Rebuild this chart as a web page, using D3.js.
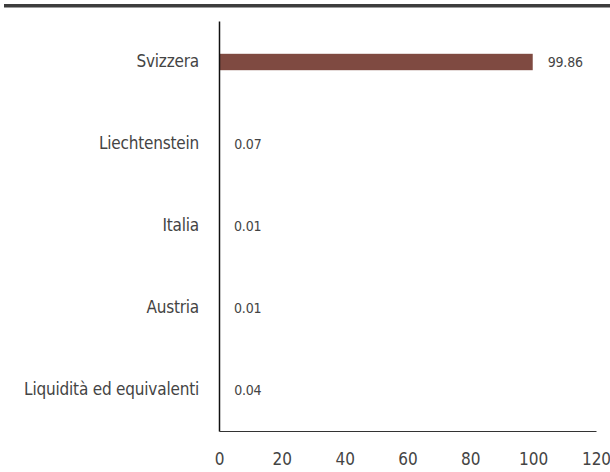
<!DOCTYPE html>
<html>
<head>
    <meta charset="utf-8">
    <script src="https://d3js.org/d3.v7.min.js"></script>
    <style>
        body { margin: 0; background: white; }
        text { font-family: "DejaVu Sans Condensed", "DejaVu Sans", sans-serif; font-stretch: condensed; fill: #444; }
    </style>
</head>
<body>
    <div id="chart"></div>
    <script>
        // Data
        const categories = ["Svizzera", "Liechtenstein", "Italia", "Austria", "Liquidità ed equivalenti"];
        const values = [99.86, 0.07, 0.01, 0.01, 0.04];
        const xTicks = [0, 20, 40, 60, 80, 100, 120];

        const width = 610, height = 472;
        const margin = { top: 21, right: 14, bottom: 41, left: 219 };

        const svg = d3.select("#chart")
            .append("svg")
            .attr("width", width)
            .attr("height", height);

        // top rule
        svg.append("rect")
            .attr("x", 4).attr("y", 4)
            .attr("width", width - 4).attr("height", 3.5)
            .attr("fill", "#3d3d3d");

        const x = d3.scaleLinear()
            .domain([0, 120])
            .range([margin.left, 596]);

        const y = d3.scaleBand()
            .domain(categories)
            .range([margin.top, height - margin.bottom])
            .paddingInner(0.8)
            .paddingOuter(0.4);

        // bars
        svg.selectAll(".bar")
            .data(categories)
            .enter()
            .append("rect")
            .attr("class", "bar")
            .attr("x", x(0))
            .attr("y", d => y(d))
            .attr("width", (d, i) => x(values[i]) - x(0))
            .attr("height", y.bandwidth())
            .attr("fill", "#7f4a41");

        // value labels
        svg.selectAll(".val")
            .data(categories)
            .enter()
            .append("text")
            .attr("class", "val")
            .attr("x", (d, i) => x(values[i]) + 15)
            .attr("y", d => y(d) + y.bandwidth() / 2)
            .attr("dy", "0.35em")
            .style("font-size", "14px")
            .style("letter-spacing", "-0.2px")
            .attr("fill", "#555")
            .text((d, i) => values[i].toFixed(2));

        // y axis
        const yAxis = svg.append("g")
            .attr("transform", `translate(${margin.left},0)`)
            .call(d3.axisLeft(y).tickSize(0).tickPadding(20));
        yAxis.select(".domain").attr("stroke", "#111").attr("stroke-width", 1.5);
        yAxis.selectAll("text")
            .style("font-size", "17px")
            .style("letter-spacing", "-0.2px")
            .attr("fill", "#444");

        // x axis
        const xAxis = svg.append("g")
            .attr("transform", `translate(0,${height - margin.bottom})`)
            .call(d3.axisBottom(x).tickValues(xTicks).tickSize(0).tickPadding(22));
        xAxis.select(".domain").attr("stroke", "#333").attr("stroke-width", 1.2);
        xAxis.selectAll("text").style("font-size", "17px").attr("fill", "#444");
    </script>
</body>
</html>
